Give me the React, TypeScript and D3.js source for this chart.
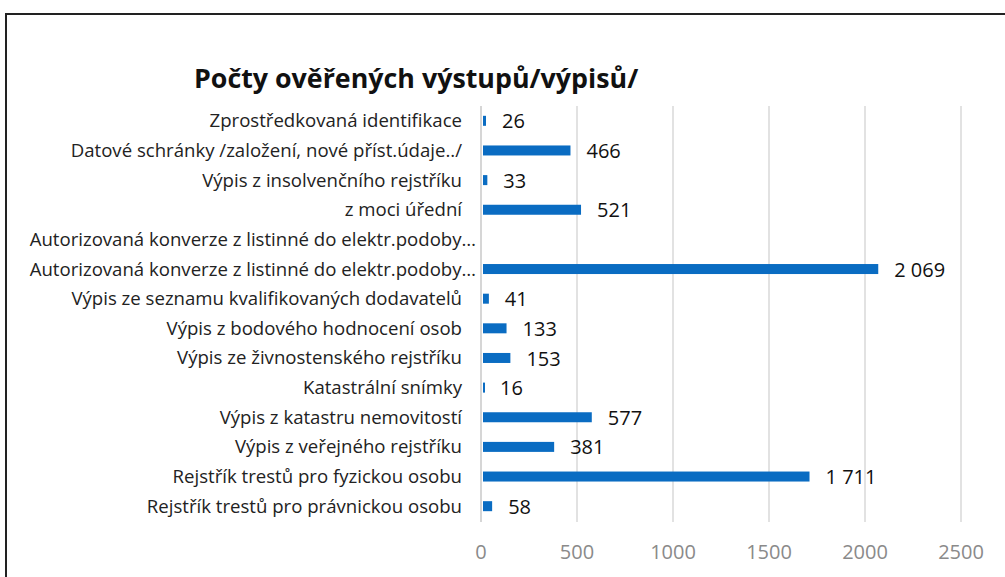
import React from "react";
import * as d3 from "d3";

const categories = [
  "Zprostředkovaná identifikace",
  "Datové schránky /založení, nové příst.údaje../",
  "Výpis z insolvenčního rejstříku",
  "z moci úřední",
  "Autorizovaná konverze z listinné do elektr.podoby…",
  "Autorizovaná konverze z listinné do elektr.podoby… ",
  "Výpis ze seznamu kvalifikovaných dodavatelů",
  "Výpis z bodového hodnocení osob",
  "Výpis ze živnostenského rejstříku",
  "Katastrální snímky",
  "Výpis z katastru nemovitostí",
  "Výpis z veřejného rejstříku",
  "Rejstřík trestů pro fyzickou osobu",
  "Rejstřík trestů pro právnickou osobu",
];
const values: (number | null)[] = [26, 466, 33, 521, null, 2069, 41, 133, 153, 16, 577, 381, 1711, 58];
const ticks = [0, 500, 1000, 1500, 2000, 2500];
const title = "Počty ověřených výstupů/výpisů/";

const fmt = (v: number) => d3.format(",")(v).replace(/,/g, " ");

export default function App() {
  const W = 1005, H = 577;
  const x = d3.scaleLinear().domain([0, 2500]).range([481, 961]);
  const y = d3.scaleBand<string>().domain(categories).range([106, 521]).padding(0);
  const barH = 10;
  const font = "'Open Sans', 'Noto Sans', sans-serif";
  return (
    <svg width={W} height={H} style={{ position: "absolute", left: 0, top: 0, background: "#fff" }}>
      <rect x={0} y={0} width={W} height={H} fill="#fff" />
      <path d={`M6,${H} V14 H${W}`} fill="none" stroke="#222" strokeWidth={2} />
      <text x={194} y={88} fontFamily={font} fontWeight={700} fontSize={26.8} fill="#111">{title}</text>
      {ticks.map((t) => (
        <line key={"g" + t} x1={x(t)} x2={x(t)} y1={106} y2={522} stroke={t === 0 ? "#c8c8c8" : "#d9d9d9"} strokeWidth={1.5} />
      ))}
      {ticks.map((t) => (
        <text key={"t" + t} x={x(t)} y={559} textAnchor="middle" fontFamily={font} fontSize={20} fill="#8a8a8a">{t}</text>
      ))}
      {categories.map((c, i) => {
        const cy = (y(c) as number) + y.bandwidth() / 2;
        const v = values[i];
        const label = c.trim();
        return (
          <g key={i}>
            <text x={label.endsWith("…") ? 476 : 462} y={cy} dy="0.35em" textAnchor="end" fontFamily={font} fontSize={18.6} fill="#222">{label}</text>
            {v !== null && (
              <>
                <rect x={x(0) + 2} y={cy - barH / 2} width={Math.max(x(v) - x(0) - 2, 2)} height={barH} fill="#0a6cc2" />
                <text x={x(v) + 16} y={cy} dy="0.38em" fontFamily={font} fontSize={20} fill="#111">{fmt(v)}</text>
              </>
            )}
          </g>
        );
      })}
    </svg>
  );
}
